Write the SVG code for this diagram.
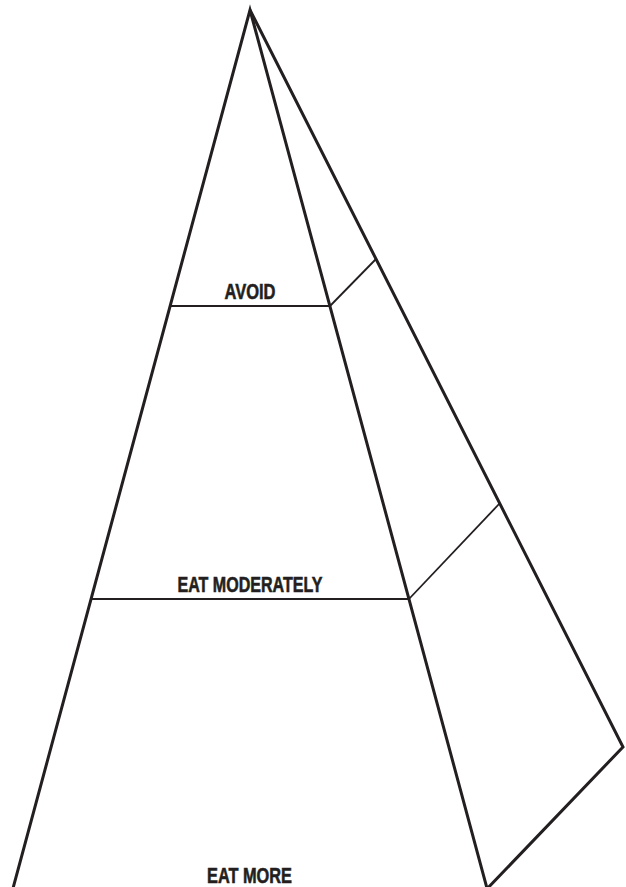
<svg xmlns="http://www.w3.org/2000/svg" width="626" height="887" viewBox="0 0 626 887">
<style>
.outer{fill:none;stroke:#231f20;stroke-width:3;stroke-linejoin:miter}
.inner{fill:none;stroke:#231f20;stroke-width:1.8}
.lbl{font-family:"Liberation Sans",Arial,sans-serif;font-weight:bold;font-size:22px;fill:#231f20;stroke:#231f20;stroke-width:0.6;text-anchor:middle}
</style>
<rect width="626" height="887" fill="#fff"/>
<g id="pyramid">
<polyline class="outer" points="12,892 250,10 488,892"/>
<polyline class="outer" points="250,10 623,747 484,892"/>
</g>
<g id="connectors">
<line class="inner" x1="170" y1="306" x2="330" y2="306"/>
<line class="inner" x1="330" y1="306" x2="376" y2="259"/>
<line class="inner" x1="91" y1="599" x2="409" y2="599"/>
<line class="inner" x1="409" y1="599" x2="500" y2="503"/>
</g>
<g id="avoid"><text class="lbl" x="250" y="299" textLength="51" lengthAdjust="spacingAndGlyphs">AVOID</text></g>
<g id="eat-moderately"><text class="lbl" x="250" y="592" textLength="145" lengthAdjust="spacingAndGlyphs">EAT MODERATELY</text></g>
<g id="eat-more"><text class="lbl" x="249.5" y="883" textLength="85" lengthAdjust="spacingAndGlyphs">EAT MORE</text></g>
</svg>
